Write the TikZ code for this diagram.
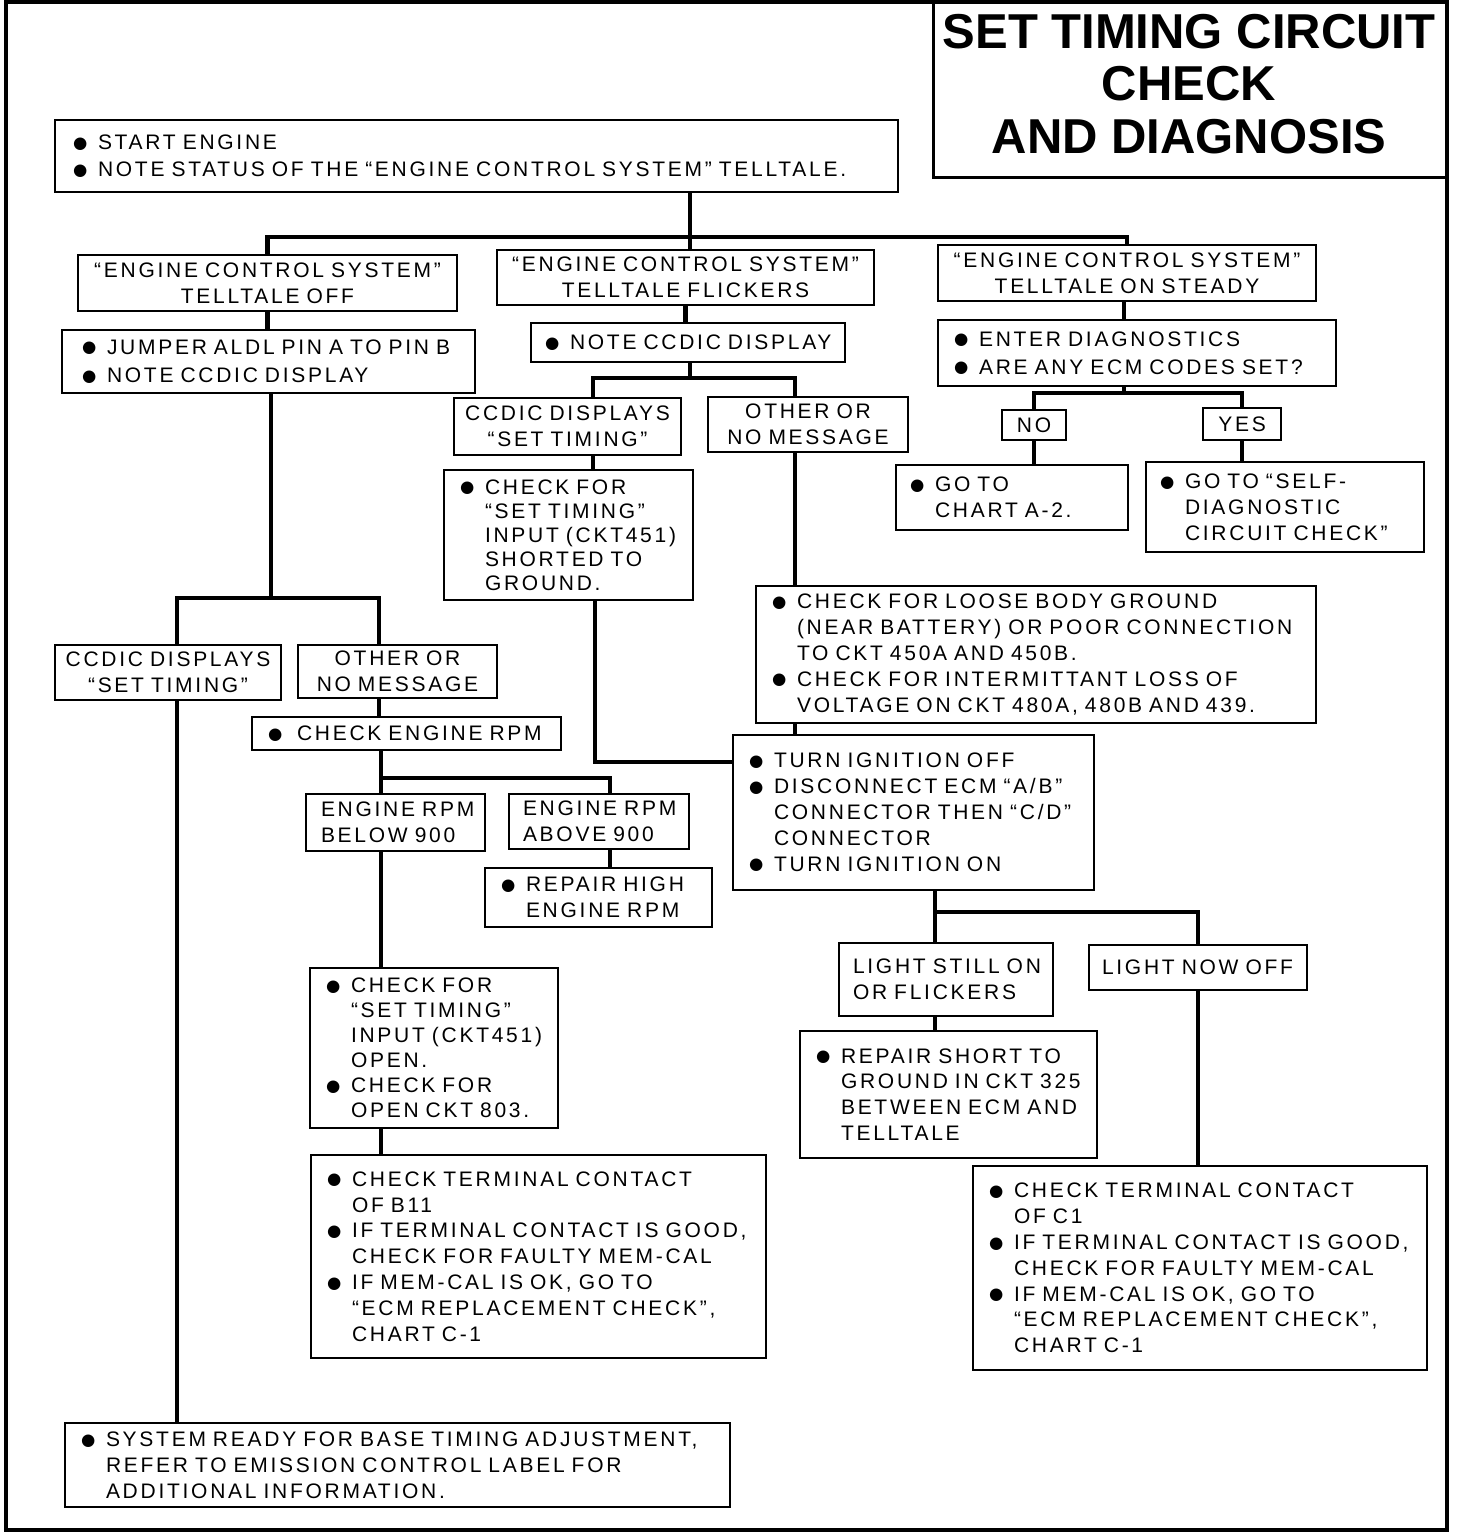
\documentclass[tikz,border=0pt]{standalone}
\usepackage{fontspec}
\newfontfamily\bodyfont{Liberation Sans}[LetterSpace=13,WordSpace=1.3]
\newfontfamily\titlefont{Liberation Sans}
\newfontfamily\symfont{DejaVu Sans}
\def\lp{8pt}
\newcommand\bul{\hspace*{\lp}\makebox[12.5pt][l]{\raisebox{0.7pt}{\symfont\fontsize{8.2}{8.2}\selectfont ●}}}
\newcommand\ind{\hspace*{\lp}\hspace*{12.5pt}}
\newcommand\pl{\hspace*{\lp}}
% left-aligned box: [left pad in pt]{name}{x1}{y1}{x2}{y2}{options}{text}
\newcommand\bx[8][8.5]{%
 \pgfmathsetmacro\cx{(#3+#5)/2}%
 \pgfmathsetmacro\cy{(#4+#6)/2}%
 \pgfmathsetmacro\bw{(#5-#3)*0.5}%
 \pgfmathsetmacro\bh{(#6-#4)*0.5}%
 \node[box,align=left,minimum width=\bw pt,minimum height=\bh pt,text width=\bw pt,#7] (#2) at (\cx,\cy)
   {\def\lp{#1pt}\hyphenpenalty=10000\relax #8};}
% centred box
\newcommand\bxc[7]{%
 \pgfmathsetmacro\cx{(#2+#4)/2}%
 \pgfmathsetmacro\cy{(#3+#5)/2}%
 \pgfmathsetmacro\bw{(#4-#2)*0.5}%
 \pgfmathsetmacro\bh{(#5-#3)*0.5}%
 \node[box,align=center,minimum width=\bw pt,minimum height=\bh pt,text width=\bw pt,#6] (#1) at (\cx,\cy)
   {\hyphenpenalty=10000\relax #7};}
\begin{document}
\begin{tikzpicture}[x=0.5pt,y=-0.5pt,
 box/.style={draw,line width=1.3pt,inner xsep=0pt,inner ysep=0pt,
   font=\bodyfont\fontsize{10.5}{12.9}\selectfont},
 conn/.style={line width=2.2pt}]
\useasboundingbox (0,0) rectangle (1456,1534);
\draw[line width=1.8pt] (6,2) rectangle (1447,1530);
% title
\draw[line width=1.5pt] (933,2) rectangle (1447,178);
\node[align=center,inner sep=0pt,font=\titlefont\bfseries\fontsize{24.5}{26.2}\selectfont] (title) at (1189,84)
  {SET TIMING CIRCUIT\\CHECK\\AND DIAGNOSIS};
% boxes
\bx[9]{start}{55}{118}{898}{190}{font=\bodyfont\fontsize{10.5}{13.6}\selectfont,yshift=-1pt}{\bul START ENGINE\\ \bul NOTE STATUS OF THE “ENGINE CONTROL SYSTEM” TELLTALE.}
\bxc{off}{78}{255}{457}{311}{}{“ENGINE CONTROL SYSTEM”\\TELLTALE OFF}
\bxc{flick}{497}{250}{874}{305}{}{“ENGINE CONTROL SYSTEM”\\TELLTALE FLICKERS}
\bxc{steady}{938}{245}{1316}{301}{}{“ENGINE CONTROL SYSTEM”\\TELLTALE ON STEADY}
\bx[10]{jumper}{62}{330}{475}{393}{font=\bodyfont\fontsize{10.5}{14.4}\selectfont}{\bul JUMPER ALDL PIN A TO PIN B\\ \bul NOTE CCDIC DISPLAY}
\bx[7]{noteccdic}{531}{323}{845}{362}{}{\bul NOTE CCDIC DISPLAY}
\bx[8]{diag}{938}{320}{1336}{386}{font=\bodyfont\fontsize{10.5}{14}\selectfont}{\bul ENTER DIAGNOSTICS\\ \bul ARE ANY ECM CODES SET?}
\bxc{no}{1002}{410}{1066}{440}{}{NO}
\bxc{yes}{1203}{408}{1281}{440}{}{YES}
\bx[7]{chartA2}{896}{465}{1128}{530}{}{\bul GO TO\\ \ind CHART A-2.}
\bx[7]{selfdiag}{1146}{462}{1424}{552}{}{\bul GO TO “SELF-\\ \ind DIAGNOSTIC\\ \ind CIRCUIT CHECK”}
\bxc{ccdicM}{454}{398}{681}{455}{}{CCDIC DISPLAYS\\“SET TIMING”}
\bxc{otherM}{708}{397}{908}{452}{}{OTHER OR\\NO MESSAGE}
\bx[8]{checkST}{444}{470}{693}{600}{font=\bodyfont\fontsize{10.5}{12}\selectfont}{\bul CHECK FOR\\ \ind “SET TIMING”\\ \ind INPUT (CKT451)\\ \ind SHORTED TO\\ \ind GROUND.}
\bx[8]{loose}{756}{586}{1316}{723}{}{\bul CHECK FOR LOOSE BODY GROUND\\ \ind (NEAR BATTERY) OR POOR CONNECTION\\ \ind TO CKT 450A AND 450B.\\ \bul CHECK FOR INTERMITTANT LOSS OF\\ \ind VOLTAGE ON CKT 480A, 480B AND 439.}
\bx[8]{turn}{733}{735}{1094}{890}{}{\bul TURN IGNITION OFF\\ \bul DISCONNECT ECM “A/B”\\ \ind CONNECTOR THEN “C/D”\\ \ind CONNECTOR\\ \bul TURN IGNITION ON}
\bx[7]{stillon}{839}{943}{1053}{1016}{}{\pl LIGHT STILL ON\\ \pl OR FLICKERS}
\bx[6.5]{nowoff}{1089}{945}{1307}{990}{}{\pl LIGHT NOW OFF}
\bx[8]{repair}{800}{1031}{1097}{1158}{}{\bul REPAIR SHORT TO\\ \ind GROUND IN CKT 325\\ \ind BETWEEN ECM AND\\ \ind TELLTALE}
\bx[8]{termC1}{973}{1166}{1427}{1370}{}{\bul CHECK TERMINAL CONTACT\\ \ind OF C1\\ \bul IF TERMINAL CONTACT IS GOOD,\\ \ind CHECK FOR FAULTY MEM-CAL\\ \bul IF MEM-CAL IS OK, GO TO\\ \ind “ECM REPLACEMENT CHECK”,\\ \ind CHART C-1}
\bxc{ccdicL}{55}{645}{281}{700}{}{CCDIC DISPLAYS\\“SET TIMING”}
\bxc{otherL}{298}{645}{497}{698}{}{OTHER OR\\NO MESSAGE}
\bx[8]{rpm}{252}{717}{561}{750}{}{\bul\hspace{2pt}CHECK ENGINE RPM}
\bx[7.5]{below}{306}{794}{485}{851}{}{\pl ENGINE RPM\\ \pl BELOW 900}
\bx[7]{above}{509}{794}{689}{849}{}{\pl ENGINE RPM\\ \pl ABOVE 900}
\bx[8]{repairhigh}{485}{868}{712}{927}{}{\bul REPAIR HIGH\\ \ind ENGINE RPM}
\bx[8]{checkOpen}{310}{968}{558}{1128}{font=\bodyfont\fontsize{10.5}{12.5}\selectfont}{\bul CHECK FOR\\ \ind “SET TIMING”\\ \ind INPUT (CKT451)\\ \ind OPEN.\\ \bul CHECK FOR\\ \ind OPEN CKT 803.}
\bx[8]{termB11}{311}{1155}{766}{1358}{}{\bul CHECK TERMINAL CONTACT\\ \ind OF B11\\ \bul IF TERMINAL CONTACT IS GOOD,\\ \ind CHECK FOR FAULTY MEM-CAL\\ \bul IF MEM-CAL IS OK, GO TO\\ \ind “ECM REPLACEMENT CHECK”,\\ \ind CHART C-1}
\bx[8]{ready}{65}{1423}{730}{1507}{}{\bul SYSTEM READY FOR BASE TIMING ADJUSTMENT,\\ \ind REFER TO EMISSION CONTROL LABEL FOR\\ \ind ADDITIONAL INFORMATION.}
% junctions
\coordinate (t1) at (690,237);
\coordinate (t2) at (690,378);
\coordinate (t3) at (935,912);
\coordinate (t4) at (1124,393);
\coordinate (t5) at (271,598);
\coordinate (t6) at (381,778);
\coordinate (xm1) at (593,0);
\coordinate (xm2) at (795,0);
\coordinate (k1) at (595,762);
\coordinate (xl1) at (177,0);
\coordinate (xl2) at (379,0);
\coordinate (xr) at (610,0);
% connectors: top
\draw[conn] (start.south -| t1) -- (t1);
\draw[conn] (off.north) |- (t1) -| (steady.north);
\draw[conn] (t1) -- (flick.north -| t1);
\draw[conn] (off.south) -- (jumper.north -| off.south);
\draw[conn] (flick.south) -- (noteccdic.north -| flick.south);
% middle
\draw[conn] (noteccdic.south -| t2) -- (t2);
\draw[conn] (ccdicM.north -| xm1) |- (t2) -| (otherM.north -| xm2);
\draw[conn] (ccdicM.south -| xm1) -- (checkST.north -| xm1);
\draw[conn] (checkST.south -| k1) -- (k1) -- (turn.west |- k1);
\draw[conn] (otherM.south -| xm2) -- (loose.north -| xm2);
\draw[conn] (loose.south -| xm2) -- (turn.north -| xm2);
% lower right
\draw[conn] (turn.south -| t3) -- (stillon.north -| t3);
\draw[conn] (t3) -| (nowoff.north);
\draw[conn] (stillon.south -| t3) -- (repair.north -| t3);
\draw[conn] (nowoff.south) -- (termC1.north -| nowoff.south);
% right
\draw[conn] (steady.south -| t4) -- (diag.north -| t4);
\draw[conn] (diag.south -| t4) -- (t4);
\draw[conn] (no.north) |- (t4) -| (yes.north);
\draw[conn] (no.south) -- (chartA2.north -| no.south);
\draw[conn] (yes.south) -- (selfdiag.north -| yes.south);
% left
\draw[conn] (jumper.south -| t5) -- (t5);
\draw[conn] (ccdicL.north -| xl1) |- (t5) -| (otherL.north -| xl2);
\draw[conn] (ccdicL.south -| xl1) -- (ready.north -| xl1);
\draw[conn] (otherL.south -| xl2) -- (rpm.north -| xl2);
\draw[conn] (rpm.south -| t6) -- (below.north -| t6);
\draw[conn] (t6) -| (above.north -| xr);
\draw[conn] (above.south -| xr) -- (repairhigh.north -| xr);
\draw[conn] (below.south -| t6) -- (checkOpen.north -| t6);
\draw[conn] (checkOpen.south -| t6) -- (termB11.north -| t6);
\end{tikzpicture}
\end{document}
